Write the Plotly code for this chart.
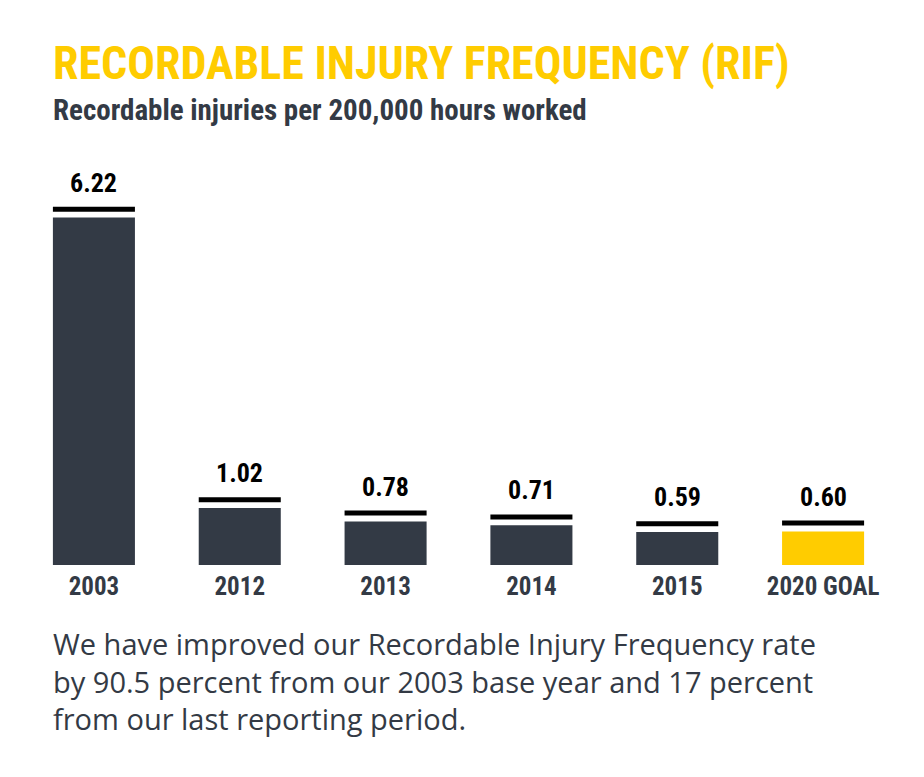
import plotly.graph_objects as go

# Dane wykresu
categories = ["2003", "2012", "2013", "2014", "2015", "2020 GOAL"]
rif_values = [6.22, 1.02, 0.78, 0.71, 0.59, 0.60]
value_labels = ["6.22", "1.02", "0.78", "0.71", "0.59", "0.60"]
title_text = "RECORDABLE INJURY FREQUENCY (RIF)"
subtitle_text = "Recordable injuries per 200,000 hours worked"
body_lines = [
    "We have improved our Recordable Injury Frequency rate",
    "by 90.5 percent from our 2003 base year and 17 percent",
    "from our last reporting period.",
]

DARK = "#333a45"
YELLOW = "#ffcc00"
COND = "Roboto Condensed, Liberation Sans Narrow, Roboto, sans-serif"
REG = "Open Sans, Noto Sans, sans-serif"

bar_colors = [DARK] * (len(categories) - 1) + [YELLOW]

# odstep i grubosc kreski nad slupkiem (w jednostkach osi y)
gap = 0.105
cap = 0.09
pos = list(range(len(categories)))

fig = go.Figure()
fig.add_trace(go.Bar(
    x=pos, y=rif_values,
    marker=dict(color=bar_colors, line=dict(width=0)),
    width=0.5625, hoverinfo="skip",
))
fig.add_trace(go.Bar(
    x=pos, y=[cap] * len(categories),
    base=[v + gap for v in rif_values],
    marker=dict(color="black", line=dict(width=0)),
    width=0.5625, hoverinfo="skip",
))

for p, v, t in zip(pos, rif_values, value_labels):
    fig.add_annotation(
        x=p, y=v + gap + cap, text=f"<b>{t}</b>", showarrow=False,
        yanchor="bottom", yshift=7,
        font=dict(family=COND, size=26, color="black"),
    )

# tytul i podtytul
fig.add_annotation(
    xref="paper", yref="paper", x=0.034, y=1.358, xanchor="left", yanchor="top",
    text=f"<b>{title_text}</b>", showarrow=False,
    font=dict(family=COND, size=46, color=YELLOW),
)
fig.add_annotation(
    xref="paper", yref="paper", x=0.034, y=1.213, xanchor="left", yanchor="top",
    text=f"<b>{subtitle_text}</b>", showarrow=False,
    font=dict(family=COND, size=29, color=DARK),
)

# opis pod wykresem
fig.add_annotation(
    xref="paper", yref="paper", x=0.034, y=-0.146,
    xanchor="left", yanchor="top", align="left",
    text="<br>".join(body_lines), showarrow=False,
    font=dict(family=REG, size=29, color=DARK),
)

# strona ma margines 8px, wiec figura jest mniejsza o 8px
fig.update_layout(
    width=916, height=769,
    margin=dict(l=13, r=28, t=166, b=212),
    barmode="overlay",
    showlegend=False,
    plot_bgcolor="white", paper_bgcolor="white",
    xaxis=dict(
        range=[-0.5, 5.5], showgrid=False, zeroline=False,
        showline=False, ticks="", ticklabelstandoff=4,
        tickfont=dict(family=COND, size=25, color=DARK),
        tickvals=pos, ticktext=[f"<b>{c}</b>" for c in categories],
    ),
    yaxis=dict(range=[0, 7], visible=False),
)

fig.write_html("out.html")
